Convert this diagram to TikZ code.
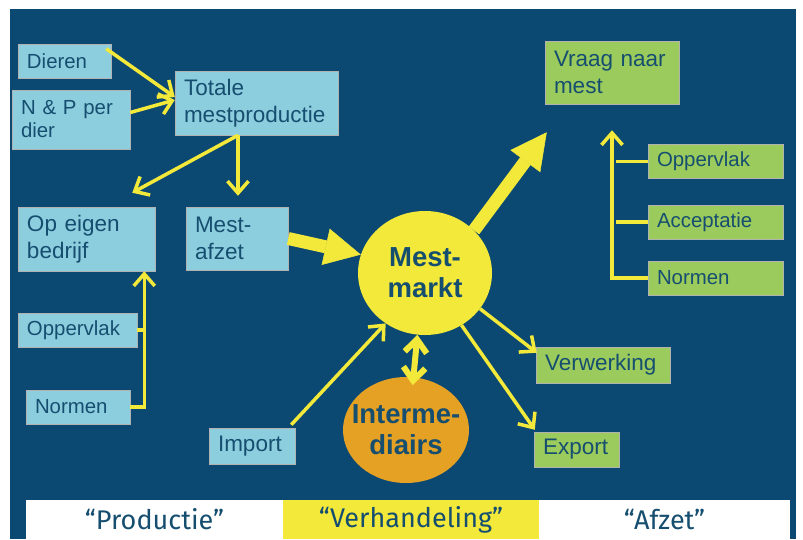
\documentclass[tikz,border=0pt]{standalone}
\usepackage{fontspec}
\setmainfont{Liberation Sans}
\newfontfamily\bandfont{Fira Sans}
\usetikzlibrary{arrows.meta,shapes.geometric}
\definecolor{slide}{RGB}{12,73,114}
\definecolor{ink}{RGB}{22,78,112}
\definecolor{lblue}{RGB}{141,206,222}
\definecolor{lgreen}{RGB}{155,203,92}
\definecolor{gold}{RGB}{243,233,58}
\definecolor{amber}{RGB}{229,161,36}
\tikzset{
  box/.style={draw=black!30, line width=0.5pt, text=ink, align=left, inner xsep=9pt, inner ysep=2pt, font=\fontsize{22.5}{26.5}\selectfont},
  smalltxt/.style={font=\fontsize{20.4}{23}\selectfont},
  prodbox/.style={box, fill=lblue},
  afzetbox/.style={box, fill=lgreen},
  link/.style={gold, line width=3.5pt, -{Straight Barb[length=12pt,width=21pt]}},
  dbl/.style={gold, line width=6pt, {Straight Barb[length=13pt,width=22pt]}-{Straight Barb[length=13pt,width=22pt]}},
  fat/.style={gold, line width=13pt, -{Triangle[length=36pt,width=37pt,line width=0.5pt]}},
  spoke/.style={gold, line width=3.5pt},
  market/.style={ellipse, inner sep=0pt, text=ink, align=center, font=\bfseries\fontsize{27.5}{31}\selectfont},
  band/.style={minimum height=39pt, inner sep=0pt, text=ink, font=\bandfont\fontsize{27}{30}\selectfont}
}
\begin{document}
\begin{tikzpicture}[x=1pt,y=-1pt]
\useasboundingbox (0,0) rectangle (803,539);
\fill[slide] (10,9) rectangle (796,539);
\pgfmathsetmacro\bandy{519.5}
\node[band, fill=white, minimum width=257pt] (prod) at (154.5,\bandy) {“Productie”};
\node[band, fill=gold, minimum width=256pt] (verh) at (411,\bandy) {“Verhandeling”};
\node[band, fill=white, minimum width=251pt] (afz) at (664.5,\bandy) {“Afzet”};
\node[prodbox, smalltxt, text width=75pt, minimum height=34pt] (dieren) at (64.5,61) {Dieren};
\node[prodbox, smalltxt, text width=100pt, minimum height=59pt] (np) at (71,119.5) {N \& P per\\dier};
\node[prodbox, text width=145pt, minimum height=64pt] (totale) at (256.5,103) {Totale\\mestproductie};
\node[prodbox, text width=119pt, minimum height=64pt] (eigen) at (86.5,239) {Op eigen\\bedrijf};
\node[prodbox, text width=84pt, minimum height=63pt] (afzet) at (237,238.5) {Mest-\\afzet};
\node[prodbox, smalltxt, text width=101pt, minimum height=34pt] (opvL) at (77.5,330) {Oppervlak};
\node[prodbox, smalltxt, text width=86pt, minimum height=34pt] (normL) at (78,407) {Normen};
\node[prodbox, text width=68pt, minimum height=36pt] (import) at (252,446) {Import};
\node[afzetbox, text width=116pt, minimum height=63pt] (vraag) at (612,72.5) {Vraag naar\\mest};
\node[afzetbox, smalltxt, text width=117pt, minimum height=34pt] (opvR) at (715.5,161.5) {Oppervlak};
\node[afzetbox, smalltxt, text width=117pt, minimum height=34pt] (accept) at (715.5,222) {Acceptatie};
\node[afzetbox, smalltxt, text width=117pt, minimum height=34pt] (normR) at (715.5,278) {Normen};
\node[afzetbox, text width=116pt, minimum height=36pt] (verw) at (603,365) {Verwerking};
\node[afzetbox, text width=67pt, minimum height=35pt] (export) at (576.5,449.5) {Export};
\node[market, fill=gold, minimum width=134pt, minimum height=124pt] (markt) at (425,273) {Mest-\\markt};
\node[market, fill=amber, minimum width=126pt, minimum height=106pt] (inter) at (406,430) {};
\node[market] (intertxt) at (inter.center) {Interme-\\diairs};
\coordinate (vtip) at ([shift={(2,28)}]vraag.south west);
\coordinate (vup) at ([shift={(0,26)}]vraag.south);
\coordinate (eup) at ([shift={(-11,0)}]eigen.south east);
\draw[link] ([shift={(-5,5)}]dieren.north east) -- ([shift={(0,-6)}]totale.west);
\draw[link] ([shift={(0,-7)}]np.east) -- ([shift={(0,-3)}]totale.west);
\draw[link] ([shift={(-18.5,0)}]totale.south) -- ([shift={(-23,-14)}]eigen.north east);
\draw[link] ([shift={(-18.5,0)}]totale.south) -- ([shift={(1,-11)}]afzet.north);
\draw[link] (normL.east) -| (eup);
\draw[spoke] (opvL.east) -- (opvL.east -| eup);
\draw[fat] (afzet.east) -- (markt.164);
\draw[fat] (markt.41) -- (vtip);
\draw[link] (normR.west) -| (vup);
\foreach \b in {opvR,accept} \draw[spoke, shorten >=4pt] (\b.west) -- (\b.west -| vup);
\draw[link] ([shift={(-4,-3)}]import.north east) -- (markt.232);
\draw[link] (markt.327) -- ([shift={(1,6)}]verw.north west);
\draw[link] (markt.305) -- ([shift={(1,-2)}]export.north west);
\draw[dbl, shorten >=-8pt] (markt.263) -- (inter.82);
\end{tikzpicture}
\end{document}
